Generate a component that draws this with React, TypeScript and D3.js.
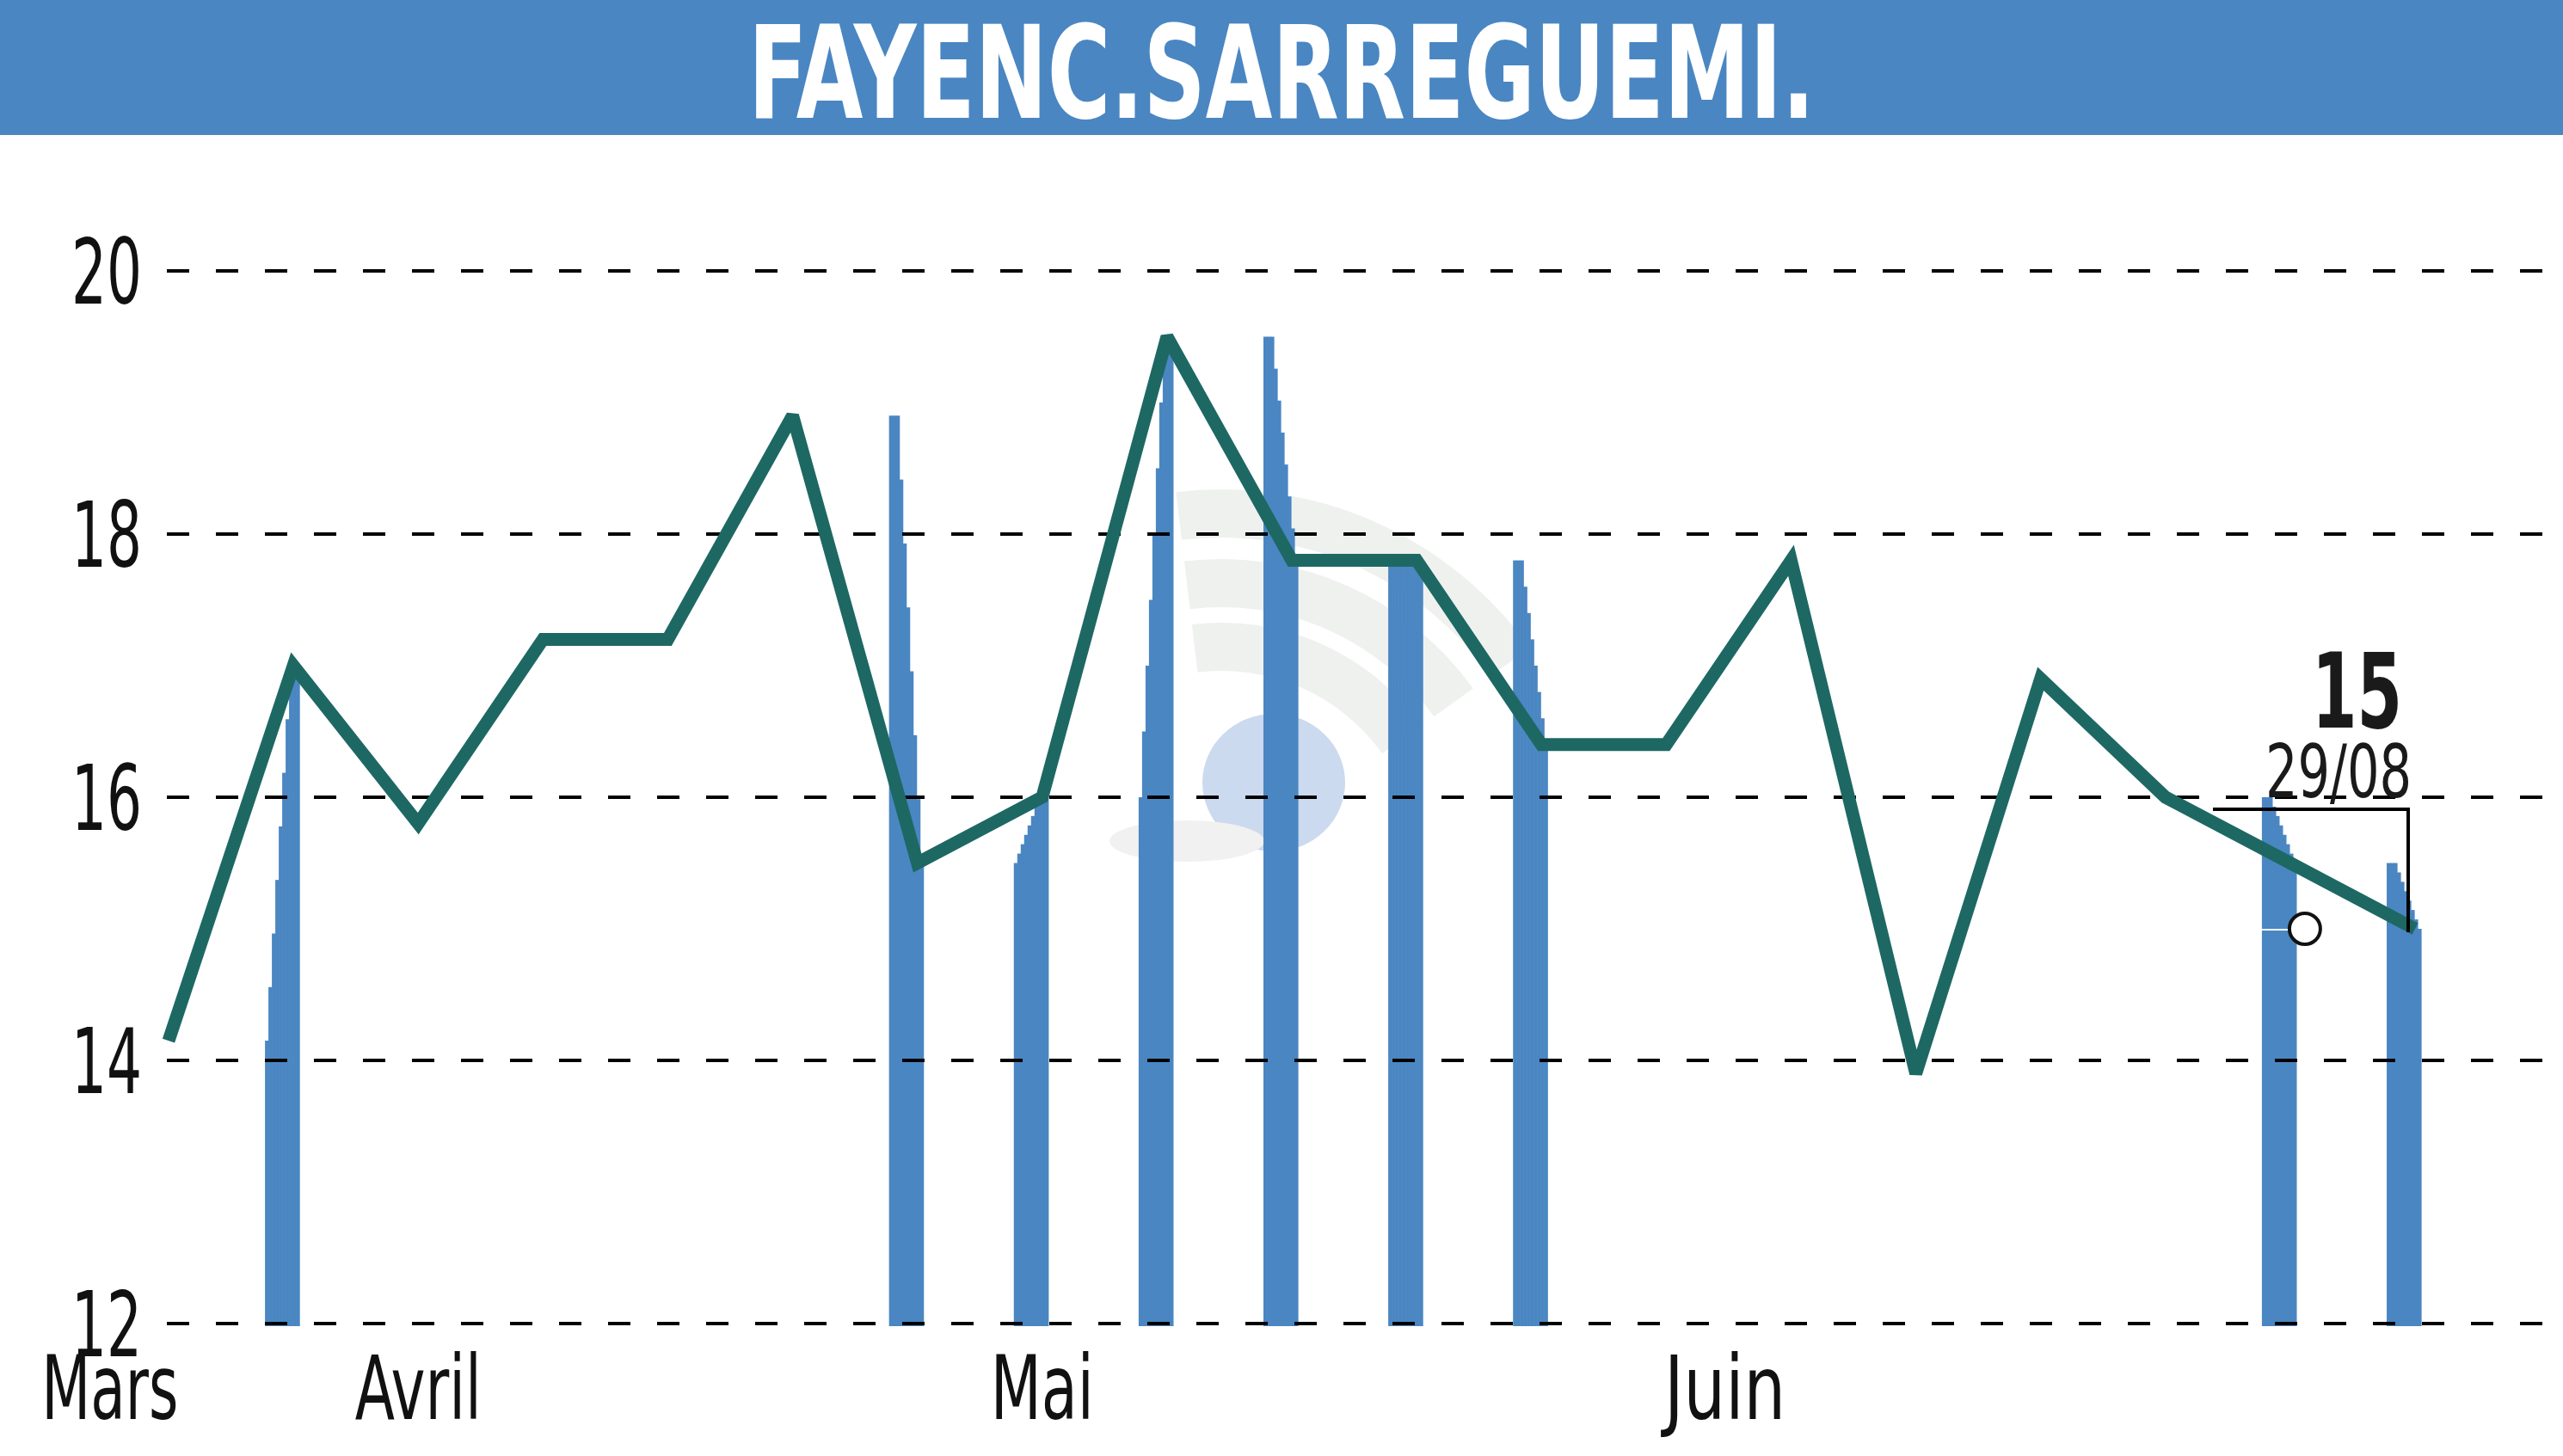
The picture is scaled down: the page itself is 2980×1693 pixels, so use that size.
import React from "react";
import * as d3 from "d3";

// ---- data ----
const prices = [14.15, 17.0, 15.8, 17.2, 17.2, 18.9, 15.5, 16.0, 19.5, 17.8, 17.8, 16.4, 16.4, 17.8, 13.9, 16.9, 16.0, 15.5, 15.0];
const volumeBarIndex = [1, 6, 7, 8, 9, 10, 11, 17, 18];
const yTicks = [12, 14, 16, 18, 20];
const monthLabels = ["Mars", "Avril", "Mai", "Juin"];
const monthPositions = [-0.47, 2, 7, 12.47];
const title = "FAYENC.SARREGUEMI.";
const lastValueLabel = "15";
const lastDateLabel = "29/08";

const W = 2980;
const H = 1693;
const BLUE = "#4a86c2";
const LINE = "#1e6864";
const FONT = "'Liberation Sans Narrow', 'Arial Narrow', 'DejaVu Sans Condensed', 'Liberation Sans', sans-serif";
const monthWidths = [159, 147, 120, 141];

export default function App() {
  const x = d3.scaleLinear().domain([0, prices.length - 1]).range([196, 2808]);
  const y = d3.scaleLinear().domain([12, 20]).range([1539, 315]);

  const line = d3
    .line<number>()
    .x((_, i) => x(i))
    .y((d) => y(d));

  // stepped volume bars
  const barRects: { x: number; y: number; w: number; h: number }[] = [];
  volumeBarIndex.forEach((i) => {
    const prev = prices[i - 1];
    const curr = prices[i];
    const d = curr - prev;
    const off = d >= 0 ? 0 : 2;
    const left = x(i) - 33;
    for (let k = 0; k < 10; k++) {
      const t = Math.max(0, Math.min(1, (k - off) / 7));
      const v = prev + d * t;
      const top = y(v);
      barRects.push({ x: left + k * 4, y: top, w: 4.6, h: y(12) + 3 - top });
    }
  });

  const last = prices.length - 1;
  const xl = x(last);
  const yl = y(prices[last]);
  const x17 = x(last - 1);

  const arcGen = d3.arc();
  const wmCx = 1420;
  const wmCy = 1010;
  const arcs = [413, 332, 258].map((r) =>
    arcGen({ innerRadius: r - 28, outerRadius: r + 28, startAngle: -0.12, endAngle: 0.95 }) as string
  );

  return (
    <svg
      width={W}
      height={H}
      style={{ position: "absolute", left: 0, top: 0, display: "block", background: "#fff" }}
    >
      <rect x={0} y={0} width={W} height={H} fill="#fff" />
      {/* title banner */}
      <rect x={0} y={0} width={W} height={157} fill={BLUE} />
      <text
        x={1490}
        y={137}
        fill="#fff"
        fontFamily={FONT}
        fontWeight="bold"
        fontSize={150}
        textAnchor="middle"
        textLength={1240}
        lengthAdjust="spacingAndGlyphs"
      >
        {title}
      </text>

      {/* watermark */}
      <g>
        {arcs.map((a, i) => (
          <path key={i} d={a} transform={`translate(${wmCx},${wmCy})`} fill="#eff1ef" />
        ))}
        <ellipse cx={1481} cy={910} rx={83} ry={80} fill="#cbdaee" />
        <ellipse cx={1380} cy={978} rx={90} ry={24} fill="#f0f1f0" />
      </g>

      {/* bars */}
      {barRects.map((r, i) => (
        <rect key={i} x={r.x} y={r.y} width={r.w} height={r.h} fill={BLUE} />
      ))}

      {/* grid */}
      {yTicks.map((t) => (
        <line
          key={t}
          x1={194}
          x2={W}
          y1={y(t)}
          y2={y(t)}
          stroke="#000"
          strokeWidth={4}
          strokeDasharray="26 31"
        />
      ))}

      {/* y labels */}
      {yTicks.map((t) => (
        <text
          key={t}
          x={165}
          y={y(t) + 38}
          fontFamily={FONT}
          fontSize={106}
          textAnchor="end"
          fill="#111"
          textLength={82}
          lengthAdjust="spacingAndGlyphs"
        >
          {t}
        </text>
      ))}

      {/* month labels */}
      {monthLabels.map((m, i) => (
        <text
          key={m}
          x={x(monthPositions[i])}
          y={1650}
          fontFamily={FONT}
          fontSize={104}
          textAnchor="middle"
          fill="#111"
          textLength={monthWidths[i]}
          lengthAdjust="spacingAndGlyphs"
        >
          {m}
        </text>
      ))}

      {/* price line */}
      <path
        d={line(prices) as string}
        fill="none"
        stroke={LINE}
        strokeWidth={15}
        strokeLinejoin="miter"
        strokeMiterlimit={2.5}
      />

      {/* last value annotation */}
      <line x1={x17 - 34} x2={x17 + 2} y1={yl + 1} y2={yl + 1} stroke="#fff" strokeWidth={2} />
      <circle cx={x17 + 17} cy={yl} r={18} fill="#fff" stroke="#111" strokeWidth={4} />
      <path
        d={`M${xl - 235},${yl - 139} H${xl - 8} V${yl + 4}`}
        fill="none"
        stroke="#000"
        strokeWidth={4}
      />
      <text
        x={xl - 15}
        y={yl - 234}
        fontFamily={FONT}
        fontWeight="bold"
        fontSize={122}
        textAnchor="end"
        fill="#1a1a1a"
        textLength={105}
        lengthAdjust="spacingAndGlyphs"
      >
        {lastValueLabel}
      </text>
      <text
        x={xl - 4}
        y={yl - 153}
        fontFamily={FONT}
        fontSize={86}
        textAnchor="end"
        fill="#1a1a1a"
        textLength={170}
        lengthAdjust="spacingAndGlyphs"
      >
        {lastDateLabel}
      </text>
    </svg>
  );
}
